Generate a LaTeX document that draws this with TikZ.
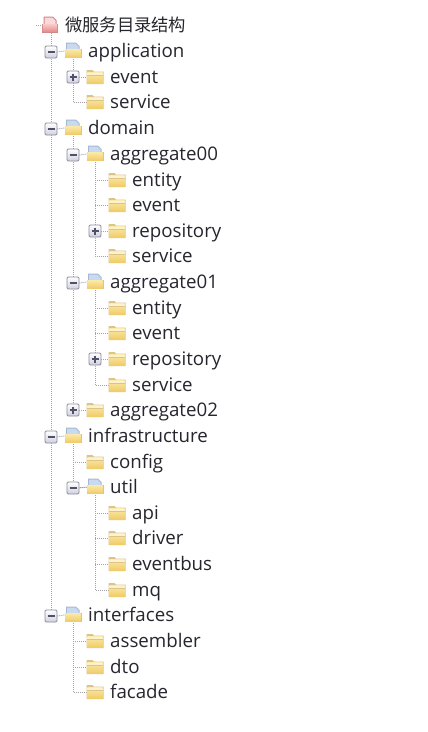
\documentclass[tikz,border=0pt]{standalone}
\usepackage{fontspec}
\usetikzlibrary{backgrounds}
\setmainfont{Open Sans}
\newfontfamily\cjk{Noto Sans CJK SC}
\definecolor{txt}{HTML}{26262E}
\definecolor{dots}{HTML}{A4A4A8}
\definecolor{fa}{HTML}{FBE9A8}
\definecolor{fb}{HTML}{F0CC68}
\definecolor{fe}{HTML}{DCC488}
\definecolor{pa}{HTML}{C8DAF0}
\definecolor{pe}{HTML}{A4B8D4}
\definecolor{ra}{HTML}{F6C4C4}
\definecolor{rb}{HTML}{E88A8A}
\definecolor{re}{HTML}{D08888}
\definecolor{signc}{HTML}{50506A}
\definecolor{boxe}{HTML}{8C8C9C}
\definecolor{boxf}{HTML}{D0D0DE}
\tikzset{
  x=1pt,y=-1pt,
  lbl/.style={anchor=base west,inner sep=0pt,text=txt,font=\fontsize{18.7}{20}\selectfont},
  cjklbl/.style={lbl,font=\fontsize{17.3}{20}\selectfont\cjk},
  icon/.style={inner sep=0pt,minimum width=17pt,minimum height=15pt},
  expbox/.style={inner sep=0pt,minimum size=12pt,rounded corners=1.2pt,draw=boxe,line width=.9pt,top color=white,bottom color=boxf},
  conn/.style={draw=dots,line width=1pt,dash pattern=on 1pt off 1pt},
  sign/.style={draw=signc,line width=1.2pt},
  closedf/.pic={
    \fill[fe] (-8.5,-7) -- (-2.5,-7) -- (-1,-5.4) -- (8.5,-5.4) -- (8.5,7) -- (-8.5,7) -- cycle;
    \shade[top color=fa,bottom color=fb] (-7.6,-4.4) rectangle (7.6,6.2);
    \fill[fa!60!white] (-7.6,-4.4) rectangle (7.6,-2);
    \fill[fe] (-7.6,-2) rectangle (7.6,-1.4);
  },
  openf/.pic={
    \fill[pe] (-7,-8.5) -- (3,-8.5) -- (6.5,-5) -- (6.5,2) -- (-7,2) -- cycle;
    \fill[pa] (-6,-7.5) -- (2.5,-7.5) -- (5.5,-4.4) -- (5.5,2) -- (-6,2) -- cycle;
    \fill[fe] (-8.5,-2.5) -- (8.5,-2.5) -- (8.5,7) -- (-8.5,7) -- cycle;
    \shade[top color=fa,bottom color=fb] (-7.6,-1.7) rectangle (7.6,6.2);
  },
  rootf/.pic={
    \fill[re] (-6.5,-8.5) -- (3,-8.5) -- (6.5,-5) -- (6.5,2) -- (-6.5,2) -- cycle;
    \fill[ra!65!white] (-5.5,-7.5) -- (2.5,-7.5) -- (5.5,-4.4) -- (5.5,2) -- (-5.5,2) -- cycle;
    \fill[re] (-8,-1) -- (8,-1) -- (8,7.5) -- (-8,7.5) -- cycle;
    \shade[top color=ra,bottom color=rb] (-7.2,-.2) rectangle (7.2,6.7);
  },
}
% name, icon x, y, text, pic type
\newcommand\Item[5]{%
  \node[icon] (#1) at (#2,#3) {};
  \pic at (#2,#3) {#5};
  \node[lbl] (#1t) at (#2+15,#3+6) {#4};
}
\newcommand\Minus[3]{%
  \node[expbox] (#1) at (#2,#3) {};
  \draw[sign] (#2-3.5,#3) -- (#2+3.5,#3);
}
\newcommand\Plus[3]{%
  \node[expbox] (#1) at (#2,#3) {};
  \draw[sign] (#2-3.5,#3) -- (#2+3.5,#3) (#2,#3-3.5) -- (#2,#3+3.5);
}
% vertical trunk from a parent down to its last child, with an elbow
\newcommand\Elbow[2]{\path[conn] (#1.south) |- (#2.west);}
% a stub from the trunk under #1 to child #2
\newcommand\Stub[2]{\path[conn] (#2.west -| #1.south) -- (#2.west);}
% a straight link from expander #1 to icon #2
\newcommand\Link[2]{\path[conn] (#1.east) -- (#2.west);}
\begin{document}
\begin{tikzpicture}
\useasboundingbox (0,0) rectangle (428,732);
\node[icon] (root) at (50,25) {};
\pic at (50,25) {rootf};
\node[cjklbl] (roott) at (65,31) {微服务目录结构};
\coordinate (rootleft) at (36,25);
\coordinate (rootdown) at (51,33);
\Item{app}{73}{51}{application}{openf}
\Item{appe}{95}{77}{event}{closedf}
\Item{apps}{95}{102}{service}{closedf}
\Item{dom}{73}{128}{domain}{openf}
\Item{agz}{95}{154}{aggregate00}{openf}
\Item{aze}{117}{180}{entity}{closedf}
\Item{azv}{117}{205}{event}{closedf}
\Item{azr}{117}{231}{repository}{closedf}
\Item{azs}{117}{256}{service}{closedf}
\Item{ago}{95}{282}{aggregate01}{openf}
\Item{aoe}{117}{308}{entity}{closedf}
\Item{aov}{117}{333}{event}{closedf}
\Item{aor}{117}{359}{repository}{closedf}
\Item{aos}{117}{385}{service}{closedf}
\Item{agt}{95}{410}{aggregate02}{closedf}
\Item{inf}{73}{436}{infrastructure}{openf}
\Item{cfg}{95}{462}{config}{closedf}
\Item{utl}{95}{487}{util}{openf}
\Item{api}{117}{513}{api}{closedf}
\Item{drv}{117}{538}{driver}{closedf}
\Item{evb}{117}{564}{eventbus}{closedf}
\Item{mq}{117}{590}{mq}{closedf}
\Item{ifc}{73}{615}{interfaces}{openf}
\Item{asm}{95}{641}{assembler}{closedf}
\Item{dto}{95}{667}{dto}{closedf}
\Item{fac}{95}{692}{facade}{closedf}
% expanders
\Minus{xapp}{51}{52}
\Plus{xappe}{73}{77}
\Minus{xdom}{51}{129}
\Minus{xagz}{73}{155}
\Plus{xazr}{95}{231}
\Minus{xago}{73}{283}
\Plus{xaor}{95}{359}
\Plus{xagt}{73}{410}
\Minus{xinf}{51}{437}
\Minus{xutl}{73}{488}
\Minus{xifc}{51}{616}
% connectors
\begin{scope}[on background layer]
\fill[white] (0,0) rectangle (428,732);
\path[conn] (rootleft) -- (root.west);
\path[conn] (rootdown) -- (xifc.north);
\Link{xapp}{app}\Link{xdom}{dom}\Link{xinf}{inf}\Link{xifc}{ifc}
\Link{xappe}{appe}\Link{xagz}{agz}\Link{xago}{ago}\Link{xagt}{agt}\Link{xutl}{utl}
\Link{xazr}{azr}\Link{xaor}{aor}
\Elbow{app}{apps}
\Elbow{dom}{agt}
\Elbow{agz}{azs}\Stub{agz}{aze}\Stub{agz}{azv}
\Elbow{ago}{aos}\Stub{ago}{aoe}\Stub{ago}{aov}
\Elbow{inf}{utl}\Stub{inf}{cfg}
\Elbow{utl}{mq}\Stub{utl}{api}\Stub{utl}{drv}\Stub{utl}{evb}
\Elbow{ifc}{fac}\Stub{ifc}{asm}\Stub{ifc}{dto}
\end{scope}
\end{tikzpicture}
\end{document}
